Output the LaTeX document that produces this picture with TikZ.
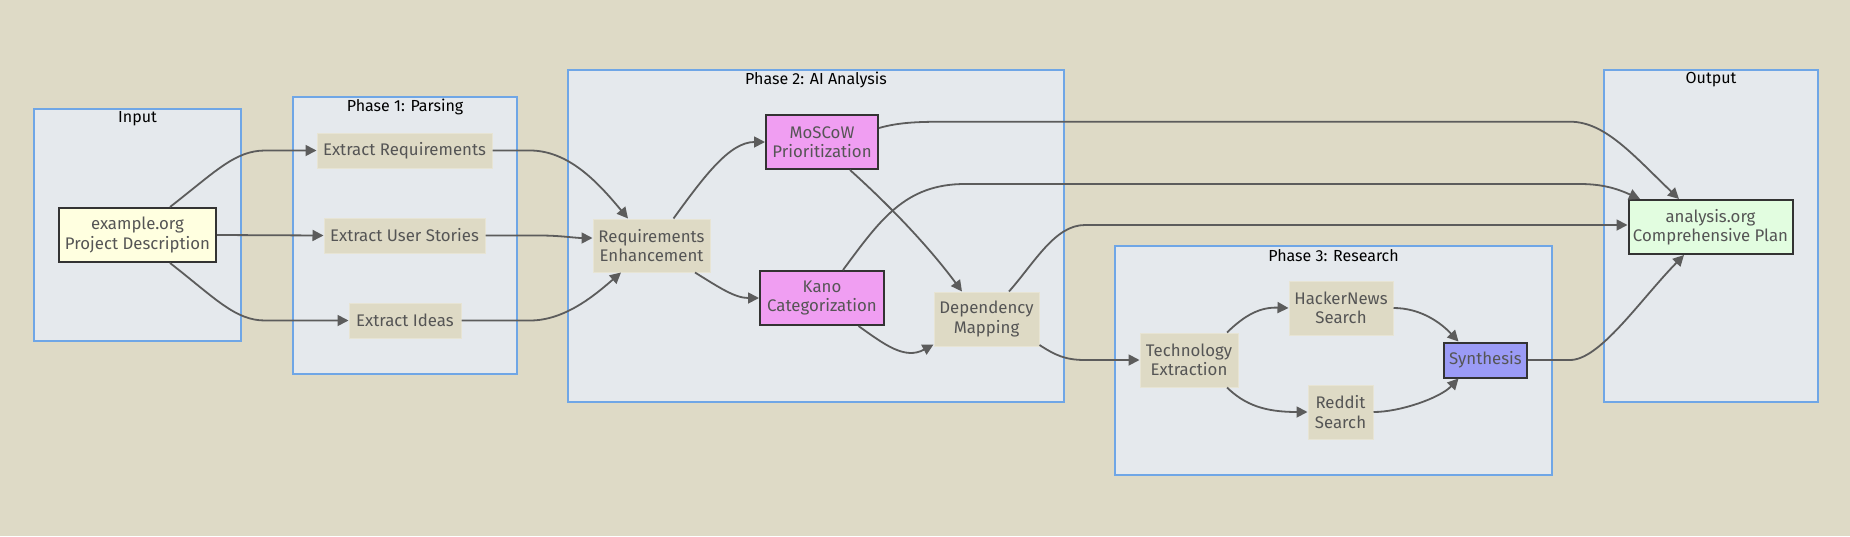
\documentclass[tikz,border=0pt]{standalone}
\usepackage{fontspec}
\setmainfont{Fira Sans}
\usetikzlibrary{arrows.meta,calc}
\definecolor{bg}{HTML}{DEDAC6}
\definecolor{clfill}{HTML}{E5E9ED}
\definecolor{clborder}{HTML}{6FA6E6}
\definecolor{plainfill}{HTML}{DEDAC5}
\definecolor{plainborder}{HTML}{E7E4D4}
\definecolor{txt}{HTML}{555555}
\definecolor{edgecol}{HTML}{5C5C5C}
\definecolor{yellowfill}{HTML}{FFFFE0}
\definecolor{pinkfill}{HTML}{F09EF2}
\definecolor{greenfill}{HTML}{E2FDE0}
\definecolor{bluefill}{HTML}{9B9BF6}
\definecolor{darkborder}{HTML}{333333}
\tikzset{
  cluster/.style={draw=clborder, fill=clfill, line width=1.2pt},
  cltitle/.style={text=black, font=\fontsize{16}{18}\selectfont, anchor=center, inner sep=0pt},
  plain/.style={draw=plainborder, fill=plainfill, line width=1pt, text=txt, align=center,
    font=\fontsize{16.8}{19.5}\selectfont, inner sep=0pt},
  strong/.style={plain, draw=darkborder, line width=2pt},
  edge/.style={draw=edgecol, line width=1.8pt, -{Triangle[length=11pt,width=11pt]}}
}
\begin{document}
\begin{tikzpicture}[x=1pt,y=-1pt]
\useasboundingbox (0,0) rectangle (1850,536);
\fill[bg] (0,0) rectangle (1850,536);
% clusters
\draw[cluster] (34,109) rectangle (241,341);
\node[cltitle] (tin) at (137.5,119) {Input};
\draw[cluster] (293,97) rectangle (517,374);
\node[cltitle] (tp1) at (405,107) {Phase 1: Parsing};
\draw[cluster] (568,70) rectangle (1064,402);
\node[cltitle] (tp2) at (816,80) {Phase 2: AI Analysis};
\draw[cluster] (1115,246) rectangle (1552,475);
\node[cltitle] (tp3) at (1333.5,256) {Phase 3: Research};
\draw[cluster] (1604,70) rectangle (1818,402);
\node[cltitle] (tout) at (1711,80) {Output};
% nodes
\node[strong, fill=yellowfill, minimum width=157, minimum height=54] (ex) at (137.5,235) {example.org\\Project Description};
\node[plain, minimum width=175, minimum height=35] (er) at (404.5,150.5) {Extract Requirements};
\node[plain, minimum width=161, minimum height=35] (eu) at (404.5,235.5) {Extract User Stories};
\node[plain, minimum width=112, minimum height=35] (ei) at (405,320.5) {Extract Ideas};
\node[plain, minimum width=117, minimum height=53] (re) at (651.5,245.5) {Requirements\\Enhancement};
\node[strong, fill=pinkfill, minimum width=112, minimum height=54] (mo) at (822,142) {MoSCoW\\Prioritization};
\node[strong, fill=pinkfill, minimum width=124, minimum height=54] (ka) at (822,298) {Kano\\Categorization};
\node[plain, minimum width=105, minimum height=54] (dm) at (986.5,319) {Dependency\\Mapping};
\node[plain, minimum width=98, minimum height=54] (te) at (1189,360) {Technology\\Extraction};
\node[plain, minimum width=104, minimum height=54] (hn) at (1341,308) {HackerNews\\Search};
\node[plain, minimum width=65, minimum height=54] (rd) at (1340.5,412) {Reddit\\Search};
\node[strong, fill=bluefill, minimum width=83, minimum height=35] (sy) at (1485.5,360) {Synthesis};
\node[strong, fill=greenfill, minimum width=164, minimum height=54] (an) at (1710.5,227) {analysis.org\\Comprehensive Plan};
% edges
\draw[edge] ([xshift=32.5pt]ex.north) .. controls (215,172) and (235,150.5) .. (265,150.5) -- (er.west);
\draw[edge] (ex.east) -- (eu.west);
\draw[edge] ([xshift=32.5pt]ex.south) .. controls (215,298) and (235,320.5) .. (265,320.5) -- (ei.west);
\draw[edge] (er.east) -- (530,150.5) .. controls (570,150.5) and (600,185) .. ([xshift=-23.5pt]re.north);
\draw[edge] (eu.east) -- (540,235.5) .. controls (560,235.5) and (575,238) .. ([yshift=7.5pt]re.west);
\draw[edge] (ei.east) -- (530,320.5) .. controls (565,320.5) and (595,295) .. ([xshift=-30.5pt]re.south);
\draw[edge] ([xshift=22pt]re.north) .. controls (705,175) and (730,142) .. (mo.west);
\draw[edge] ([xshift=43.5pt]re.south) .. controls (720,288) and (735,298) .. (ka.west);
\draw[edge] ([xshift=28pt]mo.south) .. controls (900,215) and (935,255) .. ([xshift=-24.5pt]dm.north);
\draw[edge] ([xshift=36.5pt]ka.south) .. controls (885,345) and (905,360) .. ([yshift=2pt]dm.south west);
\draw[edge] ([yshift=14pt]mo.east) .. controls (900,122) and (920,121.7) .. (950,121.7) -- (1570,121.7) .. controls (1605,121.7) and (1633,155) .. ([xshift=-31.5pt]an.north);
\draw[edge] ([xshift=21pt]ka.north) .. controls (880,220) and (905,184) .. (965,184) -- (1580,184) .. controls (1605,184) and (1620,190) .. ([xshift=-70.5pt]an.north);
\draw[edge] ([xshift=22.5pt]dm.north) .. controls (1035,262) and (1055,225) .. (1085,225) -- ([yshift=2pt]an.west);
\draw[edge] ([yshift=-26pt]dm.east) .. controls (1055,355) and (1065,360) .. (1085,360) -- (te.west);
\draw[edge] ([xshift=38pt]te.north) .. controls (1245,315) and (1260,307) .. (hn.west);
\draw[edge] ([xshift=38pt]te.south) .. controls (1245,405) and (1265,412) .. (rd.west);
\draw[edge] (hn.east) .. controls (1420,308) and (1440,322) .. ([xshift=-27pt]sy.north);
\draw[edge] (rd.east) .. controls (1400,412) and (1440,398) .. ([xshift=-27pt]sy.south);
\draw[edge] (sy.east) -- (1570,360) .. controls (1600,360) and (1640,300) .. ([xshift=-26.5pt]an.south);
\end{tikzpicture}
\end{document}
